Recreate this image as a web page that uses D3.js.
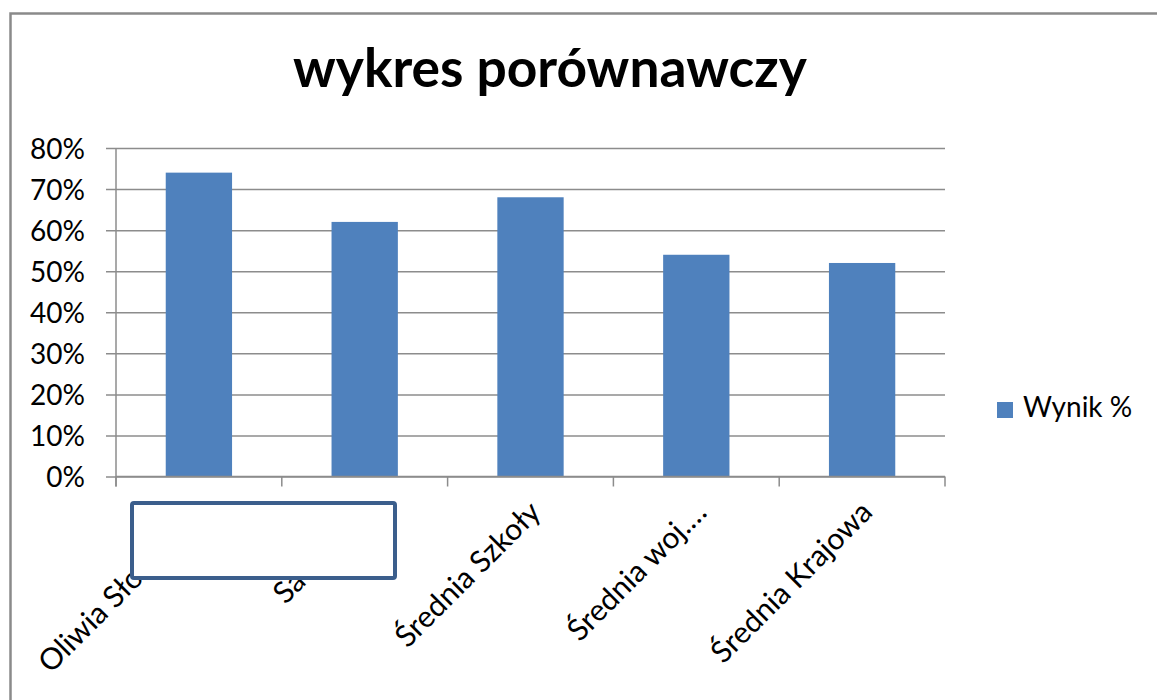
<!DOCTYPE html>
<html>
<head>
<meta charset="utf-8">
<script src="https://cdn.jsdelivr.net/npm/d3@7"></script>
<style>
  body { margin: 0; background: #fff; }
  text { font-family: Lato, "Open Sans", sans-serif; fill: #000; }
</style>
</head>
<body>
<div class="chart"></div>
<script>
const title = "wykres porównawczy";
const seriesName = "Wynik %";
const categories = ["Oliwia Sło", "Sa", "Średnia Szkoły", "Średnia woj.…", "Średnia Krajowa"];
const values = [0.74, 0.62, 0.68, 0.54, 0.52];
const yTicks = [0, 0.1, 0.2, 0.3, 0.4, 0.5, 0.6, 0.7, 0.8];

const W = 1157, H = 700;
const plot = {left: 116, right: 945, top: 148, bottom: 476.5};

const svg = d3.select(".chart").append("svg")
    .attr("width", W)
    .attr("height", H);

// outer frame of the chart (bottom and right are cut off)
svg.append("path")
    .attr("d", "M10.5," + H + "V13.5H" + W)
    .attr("fill", "none")
    .attr("stroke", "#8a8a8a")
    .attr("stroke-width", 2.5);

const x = d3.scaleBand()
    .domain(categories)
    .range([plot.left, plot.right])
    .paddingInner(0.6)
    .paddingOuter(0.3);

const y = d3.scaleLinear()
    .domain([0, 0.8])
    .range([plot.bottom, plot.top]);

// title, fitted to the width it has in the picture
const t = svg.append("text")
    .attr("x", 550)
    .attr("y", 87)
    .attr("text-anchor", "middle")
    .style("font-weight", "bold")
    .style("font-size", "46px")
    .text(title);
const tw = t.node().getComputedTextLength();
t.style("font-size", (46 * 514 / tw) + "px");

// gridlines + y axis
const yAxis = d3.axisLeft(y)
    .tickValues(yTicks)
    .tickFormat(d3.format(".0%"))
    .tickSize(-(plot.right - plot.left))
    .tickPadding(31);

const gy = svg.append("g")
    .attr("transform", "translate(" + plot.left + ",0)")
    .call(yAxis);
gy.select(".domain").remove();
gy.selectAll(".tick line")
    .attr("x1", -10)
    .attr("stroke", "#8c8c8c")
    .attr("stroke-width", 1.5);
gy.selectAll(".tick text")
    .style("font-size", "28px")
    .attr("dy", "0.36em");

svg.append("line")
    .attr("x1", plot.left).attr("x2", plot.left)
    .attr("y1", plot.top).attr("y2", plot.bottom + 10)
    .attr("stroke", "#8c8c8c")
    .attr("stroke-width", 1.5);

// bars
svg.selectAll(".bar")
    .data(values)
  .enter().append("rect")
    .attr("class", "bar")
    .attr("x", (d, i) => x(categories[i]))
    .attr("y", d => y(d))
    .attr("width", x.bandwidth())
    .attr("height", d => y(0) - y(d))
    .attr("fill", "#4f81bd");

// category axis with ticks between the groups
svg.append("line")
    .attr("x1", plot.left).attr("x2", plot.right)
    .attr("y1", plot.bottom).attr("y2", plot.bottom)
    .attr("stroke", "#8c8c8c")
    .attr("stroke-width", 1.5);

const step = x.step();
svg.selectAll(".cat-tick")
    .data(d3.range(categories.length + 1))
  .enter().append("line")
    .attr("class", "cat-tick")
    .attr("x1", i => plot.left + i * step)
    .attr("x2", i => plot.left + i * step)
    .attr("y1", plot.bottom)
    .attr("y2", plot.bottom + 10)
    .attr("stroke", "#8c8c8c")
    .attr("stroke-width", 1.5);

// the first two labels are partly hidden, their tail lies under the box
const hiddenTail = {"Oliwia Sło": 93, "Sa": 98};

svg.selectAll(".cat-label")
    .data(categories)
  .enter().append("text")
    .attr("class", "cat-label")
    .attr("text-anchor", "end")
    .attr("transform", d => {
        const cx = x(d) + x.bandwidth() / 2 + 12;
        return "translate(" + cx + "," + 514 + ") rotate(-45)";
    })
    .attr("dx", d => -(hiddenTail[d] || 0))
    .style("font-size", "30px")
    .text(d => d);

// white box covering part of the labels
svg.append("rect")
    .attr("x", 132)
    .attr("y", 503)
    .attr("width", 263)
    .attr("height", 75)
    .attr("rx", 2)
    .attr("fill", "#fff")
    .attr("stroke", "#3b5e8c")
    .attr("stroke-width", 4);

// legend
const lg = svg.append("g").attr("transform", "translate(997,402)");
lg.append("rect")
    .attr("width", 16)
    .attr("height", 16)
    .attr("fill", "#4f81bd");
lg.append("text")
    .attr("x", 26)
    .attr("y", 15)
    .style("font-size", "28px")
    .text(seriesName);
</script>
</body>
</html>
